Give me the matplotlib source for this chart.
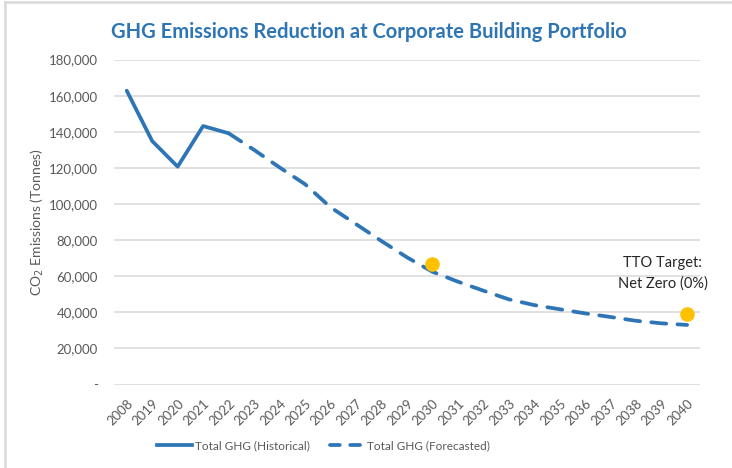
import matplotlib
matplotlib.use("Agg")
import matplotlib.pyplot as plt
from matplotlib.lines import Line2D
from matplotlib.ticker import FuncFormatter

# data
years = ["2008", "2019", "2020", "2021", "2022", "2023", "2024", "2025",
         "2026", "2027", "2028", "2029", "2030", "2031", "2032", "2033",
         "2034", "2035", "2036", "2037", "2038", "2039", "2040"]
historical = [162800, 134900, 120700, 143200, 139200]
forecasted = [139200, 130000, 120300, 111000, 98200, 88900, 79500, 70500,
              62500, 57000, 52000, 47200, 44000, 41700, 39400, 37400,
              35300, 33900, 33000]
target_years = ["2030", "2040"]
target_values = [67000, 38800]
yticks = [0, 20000, 40000, 60000, 80000, 100000, 120000, 140000, 160000, 180000]

blue = "#2E75B6"
grey_text = "#595959"
grid_col = "#D9D9D9"

plt.rcParams['font.family'] = ['Lato', 'DejaVu Sans']

fig = plt.figure(figsize=(7.32, 4.68), dpi=100)
ax = fig.add_axes([0.1557, 0.1784, 0.8003, 0.6942])

x = list(range(len(years)))
hist_x = x[:len(historical)]
fore_x = x[len(historical) - 1:]

ax.plot(hist_x, historical, '-', color=blue, lw=2.7, solid_capstyle='round',
        solid_joinstyle='round', zorder=3)
ax.plot(fore_x, forecasted, '--', color=blue, lw=2.7, dashes=(4.0, 3.0),
        dash_capstyle='round', zorder=3)

tx = [years.index(y) for y in target_years]
ax.plot(tx, target_values, 'o', color="#FFC000", markersize=10.5,
        markeredgewidth=0, zorder=4)

ax.text(tx[1] - 0.95, 61500, "TTO Target:\nNet Zero (0%)", ha='center',
        va='center', fontsize=10.5, color="#262626", linespacing=1.6)

ax.set_xlim(-0.5, len(years) - 0.5)
ax.set_ylim(0, 180000)
ax.set_yticks(yticks)
ax.yaxis.set_major_formatter(FuncFormatter(
    lambda v, p: "-" if v == 0 else "{:,.0f}".format(v)))
ax.set_xticks(x)
ax.set_xticklabels(years, rotation=45, ha='right', va='top',
                   rotation_mode='anchor')
ax.tick_params(axis='x', length=0, pad=9, labelsize=9.5, labelcolor=grey_text)
ax.tick_params(axis='y', length=0, pad=11.5, labelsize=9.5, labelcolor=grey_text)
ax.grid(axis='y', color=grid_col, lw=1.1)
ax.set_axisbelow(True)
for s in ax.spines.values():
    s.set_visible(False)

ax.set_ylabel("CO$_2$ Emissions (Tonnes)", fontsize=10, color=grey_text,
              labelpad=2)

fig.text(0.504, 0.932, "GHG Emissions Reduction at Corporate Building Portfolio",
         ha='center', va='center', fontsize=14.5, fontweight='bold', color=blue)

handles = [Line2D([], [], color=blue, lw=2.7),
           Line2D([], [], color=blue, lw=2.7, ls='--', dashes=(2.6, 2.8),
                  dash_capstyle='round')]
fig.legend(handles, ["Total GHG (Historical)", "Total GHG (Forecasted)"],
           loc='center', bbox_to_anchor=(0.442, 0.048), ncol=2, frameon=False,
           fontsize=8.5, labelcolor=grey_text, handlelength=2.9,
           handletextpad=0.25, columnspacing=1.7)

# chart area border (left and top edges visible)
fig.add_artist(Line2D([0.0062, 0.0062], [0, 0.996], color=grid_col, lw=1.8,
                      transform=fig.transFigure))
fig.add_artist(Line2D([0.0062, 1], [0.996, 0.996], color=grid_col, lw=1.8,
                      transform=fig.transFigure))

fig.savefig("out.png", dpi=100)
